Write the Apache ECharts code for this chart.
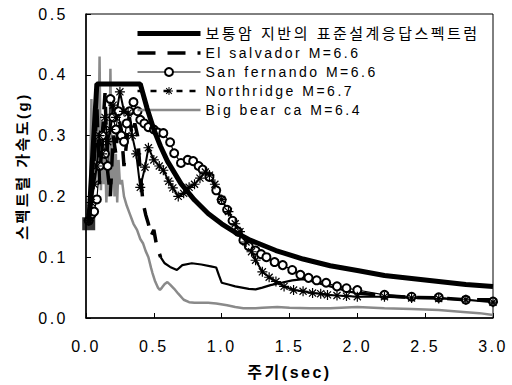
<!DOCTYPE html>
<html>
<head>
<meta charset="utf-8">
<script src="https://cdn.jsdelivr.net/npm/echarts@6/dist/echarts.min.js"></script>
<style>
  html, body { margin: 0; padding: 0; background: #fff; }
  #chart { width: 512px; height: 385px; }
  #chart text { letter-spacing: 2.5px; }
</style>
</head>
<body>
<div id="chart"></div>
<script>
// Period (sec) / spectral acceleration (g) pairs for each record
const designSpectrum = [
  [0.02,0.155],[0.08,0.385],[0.40,0.385],[0.45,0.345],[0.50,0.31],[0.55,0.282],
  [0.60,0.258],[0.70,0.221],[0.80,0.194],[0.90,0.172],[1.00,0.155],[1.10,0.141],
  [1.20,0.129],[1.40,0.111],[1.60,0.097],[1.80,0.086],[2.00,0.078],[2.20,0.070],
  [2.40,0.065],[2.60,0.060],[2.80,0.055],[3.00,0.052]
];
const elSalvador = [
  [0.02,0.16],[0.04,0.19],[0.06,0.26],[0.08,0.35],[0.10,0.22],[0.12,0.30],[0.14,0.37],
  [0.16,0.24],[0.18,0.20],[0.20,0.30],[0.22,0.27],[0.24,0.33],[0.26,0.31],[0.28,0.25],
  [0.30,0.29],[0.32,0.33],[0.34,0.30],[0.36,0.32],[0.38,0.30],[0.40,0.24],[0.42,0.19],
  [0.44,0.17],[0.46,0.155],[0.48,0.135],[0.50,0.145],[0.52,0.12],[0.55,0.10],[0.58,0.09],
  [0.62,0.084],[0.67,0.079],[0.71,0.087],[0.78,0.09],[0.85,0.088],[0.92,0.085],[0.96,0.083],
  [0.98,0.07],[1.00,0.058],[1.05,0.055],[1.10,0.052],[1.15,0.05],[1.20,0.048],[1.25,0.047],
  [1.30,0.05],[1.36,0.054],[1.44,0.058],[1.52,0.062],[1.60,0.064],[1.66,0.061],[1.72,0.057],
  [1.80,0.052],[1.88,0.047],[1.95,0.043],[2.00,0.041],[2.20,0.037],[2.40,0.034],[2.60,0.033],
  [2.80,0.030],[3.00,0.030]
];
const sanFernando = [
  [0.02,0.16],[0.04,0.17],[0.06,0.175],[0.08,0.195],[0.10,0.25],[0.12,0.30],[0.14,0.27],
  [0.16,0.25],[0.18,0.36],[0.20,0.33],[0.22,0.31],[0.24,0.34],[0.26,0.30],[0.28,0.29],
  [0.30,0.32],[0.32,0.34],[0.35,0.355],[0.38,0.34],[0.40,0.326],[0.43,0.32],[0.46,0.314],
  [0.50,0.31],[0.53,0.305],[0.57,0.304],[0.62,0.289],[0.65,0.271],[0.70,0.255],[0.75,0.26],
  [0.79,0.258],[0.83,0.25],[0.86,0.244],[0.91,0.232],[0.96,0.21],[1.00,0.194],[1.04,0.178],
  [1.08,0.16],[1.12,0.142],[1.16,0.128],[1.20,0.118],[1.25,0.111],[1.29,0.105],[1.33,0.10],
  [1.39,0.092],[1.45,0.087],[1.52,0.079],[1.58,0.071],[1.64,0.066],[1.70,0.062],[1.77,0.058],
  [1.85,0.052],[1.92,0.049],[2.00,0.046],[2.20,0.038],[2.40,0.035],[2.60,0.034],[2.80,0.030],
  [3.00,0.027]
];
const northridge = [
  [0.02,0.16],[0.04,0.19],[0.06,0.22],[0.08,0.25],[0.10,0.30],[0.12,0.27],[0.14,0.33],
  [0.16,0.29],[0.18,0.31],[0.20,0.35],[0.22,0.33],[0.25,0.372],[0.28,0.34],[0.31,0.337],
  [0.34,0.30],[0.37,0.27],[0.40,0.215],[0.435,0.248],[0.46,0.28],[0.50,0.26],[0.54,0.25],
  [0.57,0.243],[0.61,0.225],[0.64,0.214],[0.68,0.20],[0.72,0.205],[0.76,0.215],[0.80,0.22],
  [0.84,0.23],[0.88,0.24],[0.91,0.235],[0.95,0.22],[1.00,0.195],[1.05,0.175],[1.10,0.155],
  [1.135,0.142],[1.18,0.125],[1.22,0.109],[1.25,0.095],[1.30,0.076],[1.35,0.067],[1.40,0.06],
  [1.46,0.052],[1.53,0.046],[1.60,0.044],[1.67,0.041],[1.73,0.04],[1.78,0.038],[1.85,0.037],
  [1.92,0.036],[2.00,0.035],[2.20,0.035],[2.40,0.033],[2.60,0.032],[2.80,0.030],[3.00,0.026]
];
const bigBear = [
  [0.02,0.17],[0.03,0.22],[0.04,0.36],[0.05,0.20],[0.06,0.30],[0.07,0.22],[0.08,0.32],
  [0.09,0.25],[0.10,0.43],[0.11,0.21],[0.12,0.30],[0.13,0.22],[0.14,0.28],[0.15,0.19],
  [0.16,0.26],[0.17,0.20],[0.18,0.41],[0.19,0.22],[0.20,0.30],[0.21,0.20],[0.22,0.27],
  [0.23,0.19],[0.24,0.26],[0.25,0.22],[0.265,0.227],[0.28,0.20],[0.30,0.185],[0.32,0.173],
  [0.35,0.155],[0.376,0.145],[0.40,0.13],[0.42,0.123],[0.44,0.11],[0.46,0.10],[0.48,0.082],
  [0.49,0.074],[0.51,0.06],[0.53,0.05],[0.545,0.046],[0.56,0.05],[0.58,0.056],[0.60,0.059],
  [0.62,0.055],[0.65,0.048],[0.68,0.04],[0.72,0.03],[0.76,0.026],[0.80,0.025],[0.90,0.025],
  [0.96,0.024],[1.04,0.021],[1.10,0.018],[1.16,0.016],[1.25,0.016],[1.30,0.017],[1.41,0.018],
  [1.50,0.017],[1.65,0.016],[1.80,0.016],[2.00,0.018],[2.20,0.016],[2.40,0.015],[2.60,0.013],
  [2.78,0.010],[2.90,0.008],[3.00,0.005]
];

const seriesNames = [
  '보통암 지반의 표준설계응답스펙트럼',
  'El salvador M=6.6',
  'San fernando M=6.6',
  'Northridge M=6.7',
  'Big bear ca M=6.4'
];
const xTitle = '주기(sec)';
const yTitle = '스펙트럴 가속도(g)';

// El salvador: short segments read as solid in the mid periods, dashed elsewhere
const esSolidFrom = 0.55, esSolidTo = 2.0;
const esDashed = elSalvador.map(p => (p[0] <= esSolidFrom || p[0] >= esSolidTo) ? p : [p[0], null]);
const esSolid = elSalvador.filter(p => p[0] >= esSolidFrom && p[0] <= esSolidTo);

// asterisk marker made from four thin bars
const asterisk = 'path://M8.8,0 L11.2,0 L11.2,20 L8.8,20 Z M0,8.8 L20,8.8 L20,11.2 L0,11.2 Z ' +
  'M16.22,17.92 L2.08,3.78 L3.78,2.08 L17.92,16.22 Z M17.92,3.78 L3.78,17.92 L2.08,16.22 L16.22,2.08 Z';

const FONT = '"Liberation Sans", Arial, "Noto Sans CJK KR", sans-serif';
const noMarker = { opacity: 0 };

const chart = echarts.init(document.getElementById('chart'), null, { renderer: 'svg' });
chart.setOption({
  animation: false,
  backgroundColor: '#fff',
  textStyle: { fontFamily: FONT, color: '#000' },
  grid: { left: 86, right: 19, top: 14, bottom: 67, show: true, borderColor: '#000', borderWidth: 1 },
  legend: {
    orient: 'vertical', left: 130, top: 21,
    itemWidth: 63, itemHeight: 10, itemGap: 5,
    textStyle: { fontFamily: FONT, fontSize: 14, color: '#000' },
    data: [
      { name: seriesNames[0], itemStyle: noMarker, lineStyle: { width: 5 }, textStyle: { fontSize: 15 } },
      { name: seriesNames[1], itemStyle: noMarker, lineStyle: { width: 3.5, type: [18, 12] } },
      { name: seriesNames[2], lineStyle: { width: 1.2 } },
      { name: seriesNames[3], lineStyle: { width: 2.5, type: [6, 7] } },
      { name: seriesNames[4], itemStyle: noMarker, lineStyle: { width: 2.5 } }
    ]
  },
  xAxis: {
    type: 'value', min: 0, max: 3, interval: 0.5,
    name: xTitle, nameLocation: 'middle', nameGap: 46,
    nameTextStyle: { fontFamily: FONT, fontSize: 16, fontWeight: 'bold', color: '#000' },
    axisLine: { lineStyle: { color: '#000', width: 1.5 } },
    axisTick: { inside: true, length: 5, lineStyle: { color: '#000' } },
    axisLabel: { margin: 20, fontSize: 16, color: '#000', formatter: v => v.toFixed(1) },
    splitLine: { show: false }
  },
  yAxis: {
    type: 'value', min: 0, max: 0.5, interval: 0.1,
    name: yTitle, nameLocation: 'middle', nameGap: 56, nameRotate: 90,
    nameTextStyle: { fontFamily: FONT, fontSize: 15, fontWeight: 'bold', color: '#000' },
    axisLine: { show: true, lineStyle: { color: '#000', width: 1.5 } },
    axisTick: { show: true, inside: true, length: 5, lineStyle: { color: '#000' } },
    axisLabel: { margin: 18, fontSize: 16, color: '#000', formatter: v => v.toFixed(1) },
    splitLine: { show: false }
  },
  series: [
    {
      name: seriesNames[0], type: 'line', data: designSpectrum, symbol: 'none',
      color: '#000', lineStyle: { color: '#000', width: 5 }, z: 4
    },
    {
      name: 'start', type: 'scatter', data: [designSpectrum[0]], symbol: 'rect', symbolSize: 13,
      itemStyle: { color: '#000' }, silent: true, z: 5
    },
    {
      name: seriesNames[1], type: 'line', data: esDashed, symbol: 'none', connectNulls: false,
      color: '#000', lineStyle: { color: '#000', width: 3.5, type: [18, 12] }, z: 3
    },
    {
      name: seriesNames[1], type: 'line', data: esSolid, symbol: 'none',
      color: '#000', lineStyle: { color: '#000', width: 2.2 }, z: 3
    },
    {
      name: seriesNames[2], type: 'line', data: sanFernando,
      symbol: 'emptyCircle', symbolSize: 8, showAllSymbol: true,
      color: '#000', itemStyle: { color: '#000', borderWidth: 1.2 },
      lineStyle: { color: '#000', width: 1.2 }, z: 3
    },
    {
      name: seriesNames[3], type: 'line', data: northridge,
      symbol: asterisk, symbolSize: 10, showAllSymbol: true,
      color: '#000', itemStyle: { color: '#000' },
      lineStyle: { color: '#000', width: 2 }, z: 3
    },
    {
      name: seriesNames[4], type: 'line', data: bigBear, symbol: 'none',
      color: '#8a8a8a', lineStyle: { color: '#8a8a8a', width: 2.5 }, z: 2
    }
  ]
});
</script>
</body>
</html>
